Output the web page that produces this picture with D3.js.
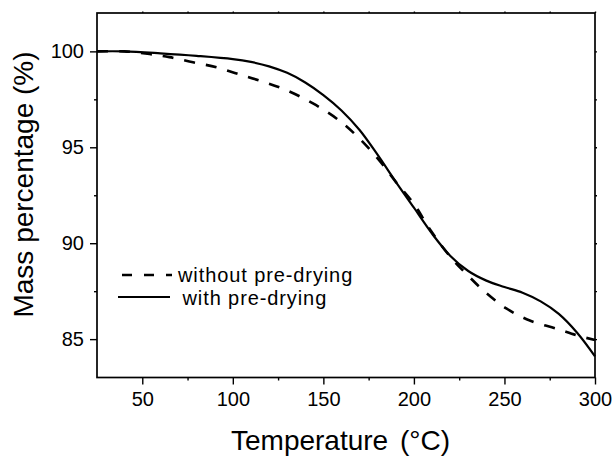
<!DOCTYPE html>
<html><head><meta charset="utf-8">
<script src="https://cdn.jsdelivr.net/npm/d3@7"></script>
<style>
html,body{margin:0;padding:0;background:#fff;}
svg{display:block;font-family:"Liberation Sans",Arial,Helvetica,sans-serif;}
</style></head>
<body><svg id="chart" width="614" height="457"></svg>
<script>
// ---- data ----
const tempWith = [25,40,60,80,100,110,120,130,140,150,160,170,180,190,200,210,220,230,240,250,260,270,280,290,300];
const massWith = [100.0,100.0,99.9,99.77,99.6,99.45,99.22,98.88,98.38,97.72,96.92,95.9,94.6,93.2,91.85,90.5,89.35,88.55,88.05,87.72,87.42,86.97,86.32,85.35,84.1];
const tempWithout = [25,40,54,65,78,91,103,116,129,144,158,170,181,190,200,209,220,230,240,251,264,279,290,300];
const massWithout = [100.0,100.0,99.86,99.7,99.43,99.17,98.82,98.44,98.0,97.3,96.45,95.45,94.3,93.2,92.05,90.7,89.3,88.3,87.4,86.6,85.97,85.54,85.2,84.95];
const xTicks = [50,100,150,200,250,300];
const xMinorTicks = [75,125,175,225,275];
const yTicks = [85,90,95,100];
const yMinorTicks = [87.5,92.5,97.5];
const legendLabels = ["without pre-drying","with pre-drying"];
const xTitleMain = "Temperature";
const xTitleUnit = " (\u00B0C)";
const yTitle = "Mass percentage (%)";

// ---- layout ----
const svg = d3.select("#chart");
const L = 97, R = 595, T = 13, B = 377.5;
const x = d3.scaleLinear().domain([25,300]).range([L,R]);
const y = d3.scaleLinear().domain([83,102]).range([B,T]);

// frame
svg.append("rect").attr("x",L).attr("y",T).attr("width",R-L).attr("height",B-T)
  .attr("fill","none").attr("stroke","#000").attr("stroke-width",1.7);

function styleAxis(g){
  g.select(".domain").remove();
  g.selectAll("line").attr("stroke","#000").attr("stroke-width",1.4);
  g.selectAll("text").attr("font-size",20).attr("fill","#000")
   .attr("font-family","'Liberation Sans',Arial,sans-serif");
}
// bottom
svg.append("g").attr("transform",`translate(0,${B})`)
  .call(d3.axisBottom(x).tickValues(xTicks).tickSize(7).tickPadding(7).tickFormat(d3.format("d")))
  .call(styleAxis);
svg.append("g").attr("transform",`translate(0,${B})`)
  .call(d3.axisBottom(x).tickValues(xMinorTicks).tickSize(3).tickFormat(""))
  .call(styleAxis);
// left
svg.append("g").attr("transform",`translate(${L},0)`)
  .call(d3.axisLeft(y).tickValues(yTicks).tickSize(7).tickPadding(6).tickFormat(d3.format("d")))
  .call(styleAxis);
svg.append("g").attr("transform",`translate(${L},0)`)
  .call(d3.axisLeft(y).tickValues(yMinorTicks).tickSize(3).tickFormat(""))
  .call(styleAxis);
// right & top small ticks
svg.append("g").attr("transform",`translate(${R},0)`)
  .call(d3.axisRight(y).tickValues(yTicks.concat(yMinorTicks)).tickSize(2).tickFormat(""))
  .call(styleAxis);
svg.append("g").attr("transform",`translate(0,${T})`)
  .call(d3.axisTop(x).tickValues(xTicks.concat(xMinorTicks)).tickSize(1.5).tickFormat(""))
  .call(styleAxis);

// curves
const line = d3.line().curve(d3.curveCatmullRom.alpha(0.5)).x(d=>x(d[0])).y(d=>y(d[1]));
const dWithout = tempWithout.map((t,i)=>[t,massWithout[i]]);
const dWith = tempWith.map((t,i)=>[t,massWith[i]]);
svg.append("path").datum(dWithout).attr("d",line).attr("fill","none")
  .attr("stroke","#000").attr("stroke-width",2.6).attr("stroke-dasharray","11,11");
svg.append("path").datum(dWith).attr("d",line).attr("fill","none")
  .attr("stroke","#000").attr("stroke-width",2.2);

// legend
const lg = svg.append("g");
lg.append("line").attr("x1",122).attr("x2",172).attr("y1",275).attr("y2",275)
  .attr("stroke","#000").attr("stroke-width",2.6).attr("stroke-dasharray","10,12");
lg.append("text").attr("x",178).attr("y",281.5).attr("font-size",20).attr("letter-spacing",0.9).text(legendLabels[0]);
lg.append("line").attr("x1",118).attr("x2",170).attr("y1",297).attr("y2",297)
  .attr("stroke","#000").attr("stroke-width",2.2);
lg.append("text").attr("x",182.5).attr("y",304.5).attr("font-size",20).attr("letter-spacing",0.9).text(legendLabels[1]);

// titles
const xt = svg.append("text").attr("x",231).attr("y",449.5).attr("font-size",28);
xt.append("tspan").text(xTitleMain);
xt.append("tspan").attr("dx",4).text(xTitleUnit);
svg.append("text").attr("transform","translate(32.5,184.5) rotate(-90)")
  .attr("text-anchor","middle").attr("font-size",28).text(yTitle);
</script></body></html>
